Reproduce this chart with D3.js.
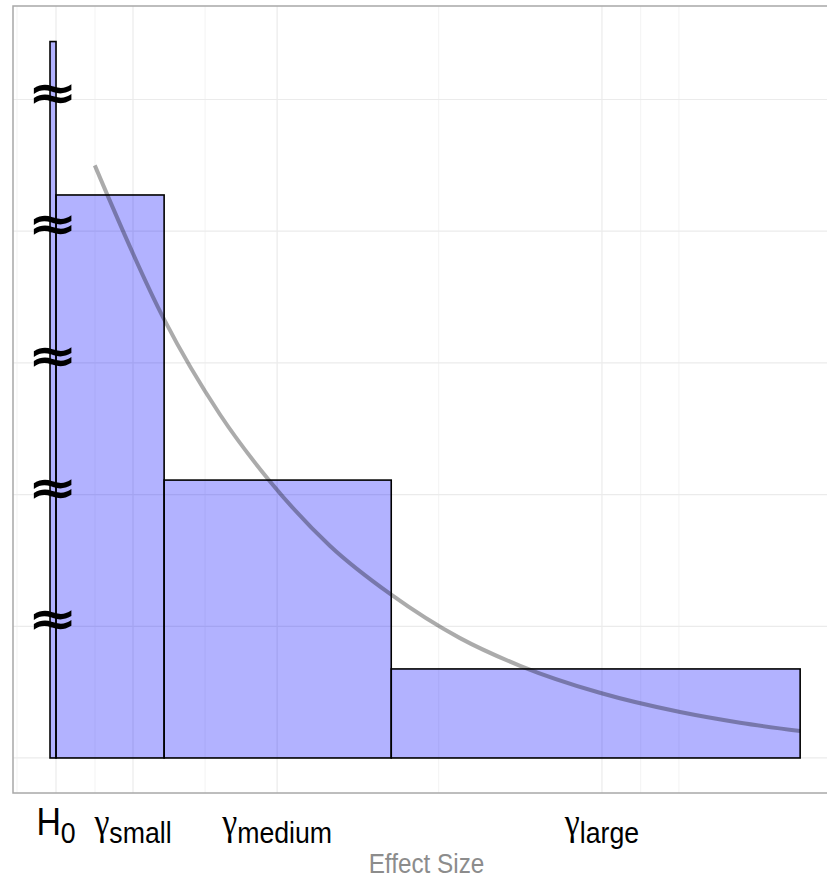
<!DOCTYPE html>
<html>
<head>
<meta charset="utf-8">
<script src="https://cdn.jsdelivr.net/npm/d3@7"></script>
<style>
  body { margin: 0; background: #fff; }
  text { font-family: "Liberation Sans", Arial, sans-serif; }
</style>
</head>
<body>
<svg id="chart" width="827" height="878"></svg>
<script>
// bins of effect size (x0, x1) and their heights
var binNames = ["H0", "small", "medium", "large"];
var binX0 = [-0.011, 0, 0.198, 0.614];
var binX1 = [0, 0.198, 0.614, 1.363];
var binH = [5.44, 4.275, 2.11, 0.676];

// grey prior curve
var curveX = [0.071, 0.198, 0.300, 0.392, 0.502, 0.614, 0.740, 0.850, 0.996, 1.143, 1.253, 1.363];
var curveY = [4.50, 3.33, 2.61, 2.10, 1.61, 1.24, 0.91, 0.70, 0.495, 0.349, 0.268, 0.205];

// x axis breaks
var majorX = [0, 0.141, 0.405, 1.0];
var minorX = [-0.0714, 0.0714, 0.273, 0.701, 1.071, 1.141];
var tickMain = ["H", "γ", "γ", "γ"];
var tickSub = ["0", "small", "medium", "large"];

// y gridlines and axis break marks
var gridY = [0, 1, 2, 3, 4, 5];
var breakY = [1, 2, 3, 4, 5];

var svg = d3.select("#chart"),
    pL = 13, pT = 6, pR = 840, pB = 793;

var x = d3.scaleLinear().domain([-0.0788, 1.436]).range([pL, pR]);
var y = d3.scaleLinear().domain([-0.266, 5.71]).range([pB, pT]);

var g = svg.append("g");

// grid
g.append("g").selectAll("line").data(minorX).enter().append("line")
  .attr("x1", function (d) { return x(d); }).attr("x2", function (d) { return x(d); })
  .attr("y1", pT).attr("y2", pB)
  .attr("stroke", "#f3f3f3").attr("stroke-width", 1);
g.append("g").selectAll("line").data(majorX).enter().append("line")
  .attr("x1", function (d) { return x(d); }).attr("x2", function (d) { return x(d); })
  .attr("y1", pT).attr("y2", pB)
  .attr("stroke", "#ebebeb").attr("stroke-width", 1.2);
g.append("g").selectAll("line").data(gridY).enter().append("line")
  .attr("x1", pL).attr("x2", pR)
  .attr("y1", function (d) { return y(d); }).attr("y2", function (d) { return y(d); })
  .attr("stroke", "#ebebeb").attr("stroke-width", 1.2);

// bars
g.append("g").selectAll("rect").data(binNames).enter().append("rect")
  .attr("x", function (d, i) { return x(binX0[i]); })
  .attr("width", function (d, i) { return x(binX1[i]) - x(binX0[i]); })
  .attr("y", function (d, i) { return y(binH[i]); })
  .attr("height", function (d, i) { return y(0) - y(binH[i]); })
  .attr("fill", "blue").attr("fill-opacity", 0.3)
  .attr("stroke", "#000").attr("stroke-width", 1.6);

// curve
var pts = curveX.map(function (d, i) { return [d, curveY[i]]; });
g.append("path")
  .datum(pts)
  .attr("fill", "none")
  .attr("stroke", "#000").attr("stroke-opacity", 0.33)
  .attr("stroke-width", 4)
  .attr("d", d3.line()
    .x(function (d) { return x(d[0]); })
    .y(function (d) { return y(d[1]); })
    .curve(d3.curveMonotoneX));

// axis break marks
g.append("g").selectAll("text").data(breakY).enter().append("text")
  .attr("transform", function (d) { return "translate(" + x(-0.006) + "," + (y(d) + 9) + ") scale(1.25,1)"; })
  .attr("text-anchor", "middle")
  .style("font-family", "DejaVu Sans")
  .style("font-weight", "bold")
  .style("font-size", "48px")
  .attr("fill", "#000")
  .text("≈");

// panel border
svg.append("rect")
  .attr("x", pL).attr("y", pT)
  .attr("width", pR - pL).attr("height", pB - pT)
  .attr("fill", "none").attr("stroke", "#a8a8a8").attr("stroke-width", 1.5);

// tick labels
var ticks = svg.append("g").selectAll("g").data(majorX).enter().append("g")
  .attr("transform", function (d) { return "translate(" + x(d) + ",835) scale(0.89,1)"; });
var t = ticks.append("text").attr("text-anchor", "middle").attr("fill", "#000");
t.append("tspan")
  .style("font-size", function (d, i) { return i == 0 ? "38px" : "38px"; })
  .style("font-family", function (d, i) { return i == 0 ? null : "Liberation Serif"; })
  .text(function (d, i) { return tickMain[i]; });
t.append("tspan").attr("dy", 8)
  .style("font-size", "30px")
  .text(function (d, i) { return tickSub[i]; });

svg.append("text")
  .attr("transform", "translate(" + ((pL + pR) / 2) + ",873) scale(0.9,1)")
  .attr("text-anchor", "middle")
  .attr("fill", "#8c8c8c")
  .style("font-size", "27px")
  .text("Effect Size");
</script>
</body>
</html>
